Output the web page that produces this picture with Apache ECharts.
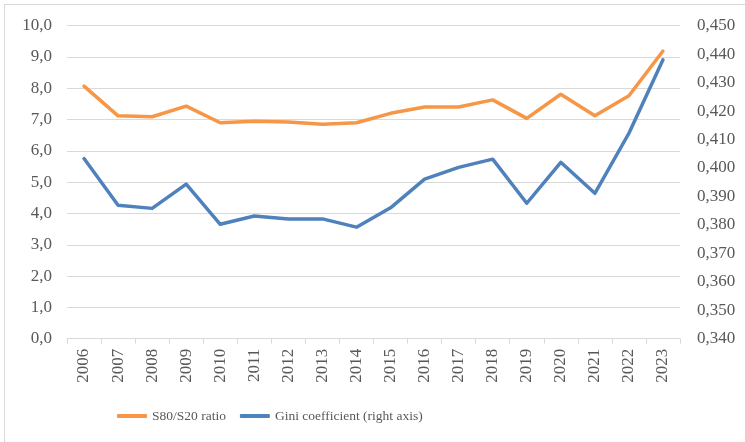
<!DOCTYPE html>
<html>
<head>
<meta charset="utf-8">
<script src="https://cdn.jsdelivr.net/npm/echarts@6/dist/echarts.min.js"></script>
<style>
	html, body { margin: 0; padding: 0; background: #fff; }
	#frame { position: absolute; left: 4px; top: 4px; width: 800px; height: 500px; border: 1px solid #d9d9d9; }
	#chart { position: absolute; left: 0; top: 0; width: 745px; height: 442px; }
</style>
</head>
<body>
<div id="frame"></div>
<div id="chart"></div>
<script>
	// years on the x axis
	var years = ['2006', '2007', '2008', '2009', '2010', '2011', '2012', '2013', '2014',
		'2015', '2016', '2017', '2018', '2019', '2020', '2021', '2022', '2023'];
	// S80/S20 ratio (left axis)
	var s80s20 = [8.07, 7.12, 7.09, 7.43, 6.90, 6.95, 6.92, 6.85, 6.90,
		7.20, 7.40, 7.40, 7.63, 7.04, 7.81, 7.12, 7.76, 9.19];
	// Gini coefficient (right axis)
	var gini = [0.4033, 0.3869, 0.3858, 0.3943, 0.3802, 0.3831, 0.3821, 0.3821, 0.3792,
		0.3860, 0.3961, 0.4002, 0.4031, 0.3876, 0.4020, 0.3911, 0.4122, 0.4380];

	var txt = '#595959';
	var font = "'Liberation Serif', 'Times New Roman', serif";

	var chart = echarts.init(document.getElementById('chart'));
	chart.setOption({
		animation: false,
		textStyle: { fontFamily: font },
		grid: { left: 67, right: 65, top: 25.7, bottom: 103.3, containLabel: false },
		legend: {
			left: 117,
			top: 409,
			padding: 0,
			icon: 'roundRect',
			itemWidth: 30,
			itemHeight: 4,
			itemGap: 14,
			textStyle: { color: txt, fontSize: 13.5, fontFamily: font },
			data: ['S80/S20 ratio', 'Gini coefficient (right axis)']
		},
		xAxis: {
			type: 'category',
			data: years,
			boundaryGap: true,
			axisLine: { lineStyle: { color: '#d9d9d9', width: 1 } },
			axisTick: { show: true, length: 5, lineStyle: { color: '#d9d9d9' } },
			axisLabel: { rotate: 90, interval: 0, color: txt, fontSize: 17, margin: 10, fontFamily: font }
		},
		yAxis: [
			{
				type: 'value',
				min: 0, max: 10, interval: 1,
				axisLine: { show: false },
				axisTick: { show: false },
				splitLine: { lineStyle: { color: '#d9d9d9', width: 1 } },
				axisLabel: {
					color: txt, fontSize: 17, margin: 15, fontFamily: font,
					formatter: function (v) { return v.toFixed(1).replace('.', ','); }
				}
			},
			{
				type: 'value',
				min: 0.34, max: 0.45, interval: 0.01,
				axisLine: { show: false },
				axisTick: { show: false },
				splitLine: { show: false },
				axisLabel: {
					color: txt, fontSize: 17, margin: 17, fontFamily: font,
					formatter: function (v) { return v.toFixed(3).replace('.', ','); }
				}
			}
		],
		series: [
			{
				name: 'S80/S20 ratio',
				type: 'line',
				yAxisIndex: 0,
				data: s80s20,
				symbol: 'none',
				itemStyle: { color: '#F79646' },
				lineStyle: { color: '#F79646', width: 3.5, cap: 'round', join: 'round' },
				z: 3
			},
			{
				name: 'Gini coefficient (right axis)',
				type: 'line',
				yAxisIndex: 1,
				data: gini,
				symbol: 'none',
				itemStyle: { color: '#4F81BD' },
				lineStyle: { color: '#4F81BD', width: 3.5, cap: 'round', join: 'round' },
				z: 2
			}
		]
	});
</script>
</body>
</html>
